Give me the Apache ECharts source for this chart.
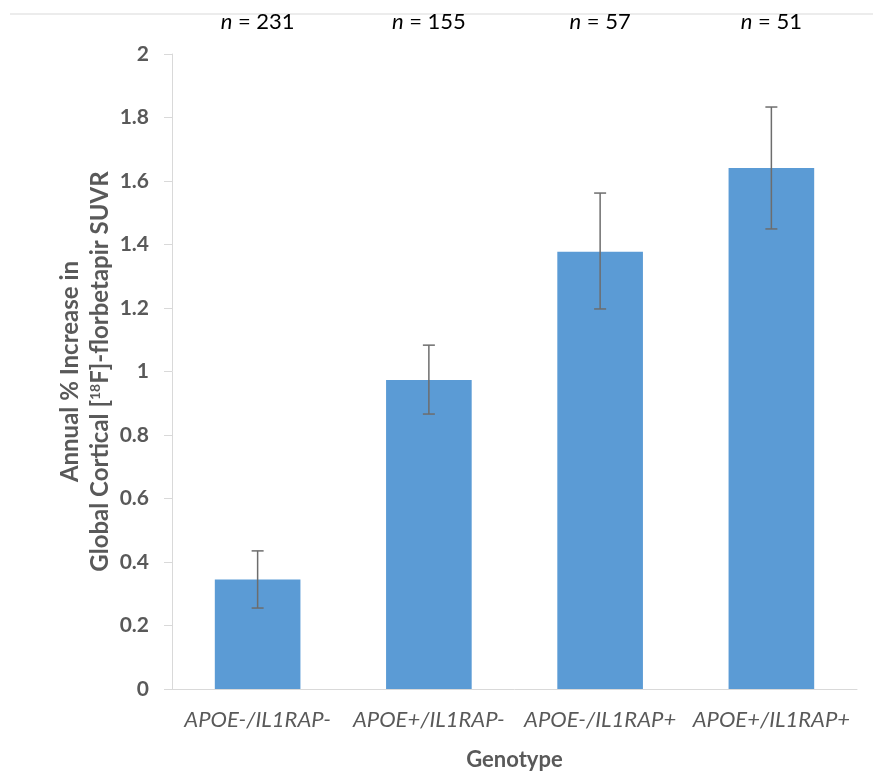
<!doctype html>
<html>
<head>
<meta charset="utf-8">
<title>Annual increase by genotype</title>
<script src="https://cdn.jsdelivr.net/npm/echarts@6/dist/echarts.min.js"></script>
<style>
  html, body { margin: 0; padding: 0; background: #fff; }
  #main { width: 873px; height: 774px; }
</style>
</head>
<body>
<div id="main"></div>
<script>
var genotypes = ['APOE-/IL1RAP-', 'APOE+/IL1RAP-', 'APOE-/IL1RAP+', 'APOE+/IL1RAP+'];
var counts = [231, 155, 57, 51];
var means = [0.345, 0.973, 1.377, 1.641];
var errLow = [0.255, 0.866, 1.197, 1.449];
var errHigh = [0.435, 1.083, 1.562, 1.833];

var font = 'Lato';
var grey = '#595959';

var chart = echarts.init(document.getElementById('main'));

var errData = genotypes.map(function (g, i) { return [i, errLow[i], errHigh[i]]; });

var option = {
  animation: false,
  grid: { left: 172, right: 16, top: 54, bottom: 85, outerBoundsMode: 'none', containLabel: false },
  graphic: [
    { type: 'line', shape: { x1: 10, y1: 14, x2: 873, y2: 14 }, style: { stroke: '#d9d9d9', lineWidth: 1 } }
  ],
  xAxis: [{
    type: 'category',
    data: genotypes,
    axisLine: { lineStyle: { color: '#d9d9d9', width: 1 } },
    axisTick: { show: false },
    axisLabel: { interval: 0, color: grey, fontFamily: font, fontStyle: 'italic', fontSize: 22, margin: 20 },
    name: 'Genotype',
    nameLocation: 'middle',
    nameGap: 60,
    nameMoveOverlap: false,
    nameTextStyle: { color: grey, fontFamily: font, fontWeight: 'bold', fontSize: 22 }
  }, {
    type: 'category',
    position: 'top',
    data: counts,
    axisLine: { show: false },
    axisTick: { show: false },
    axisLabel: {
      interval: 0,
      margin: 21,
      formatter: function (v) { return '{i|n} = ' + v; },
      color: '#000', fontFamily: font, fontSize: 22,
      rich: { i: { fontStyle: 'italic', fontFamily: font, fontSize: 22, color: '#000' } }
    }
  }],
  yAxis: {
    type: 'value',
    min: 0, max: 2, interval: 0.2,
    splitLine: { show: false },
    axisLine: { show: true, lineStyle: { color: '#d9d9d9', width: 1 } },
    axisTick: { show: true, length: 8, lineStyle: { color: '#d9d9d9' } },
    axisLabel: {
      color: grey, fontFamily: font, fontWeight: 'bold', fontSize: 21, margin: 23,
      formatter: function (v) { return String(Math.round(v * 10) / 10); }
    },
    name: 'Annual % Increase in\nGlobal Cortical [{sup|18}F]-florbetapir SUVR',
    nameLocation: 'middle',
    nameGap: 57,
    nameMoveOverlap: false,
    nameRotate: 90,
    nameTextStyle: {
      color: grey, fontFamily: font, fontWeight: 'bold', fontSize: 24, lineHeight: 30,
      rich: { sup: { fontSize: 14, color: grey, fontFamily: font, fontWeight: 'bold', padding: [0, 0, 10, 0] } }
    }
  },
  series: [{
    type: 'bar',
    data: means,
    barWidth: '50%',
    itemStyle: { color: '#5b9bd5' }
  }, {
    type: 'custom',
    data: errData,
    z: 10,
    renderItem: function (params, api) {
      var x = api.value(0);
      var lo = api.coord([x, api.value(1)]);
      var hi = api.coord([x, api.value(2)]);
      var cap = 6;
      var st = { stroke: '#6d6d6d', lineWidth: 1.5 };
      return {
        type: 'group',
        children: [
          { type: 'line', shape: { x1: lo[0], y1: lo[1], x2: hi[0], y2: hi[1] }, style: st },
          { type: 'line', shape: { x1: lo[0] - cap, y1: lo[1], x2: lo[0] + cap, y2: lo[1] }, style: st },
          { type: 'line', shape: { x1: hi[0] - cap, y1: hi[1], x2: hi[0] + cap, y2: hi[1] }, style: st }
        ]
      };
    }
  }]
};

chart.setOption(option);
</script>
</body>
</html>
